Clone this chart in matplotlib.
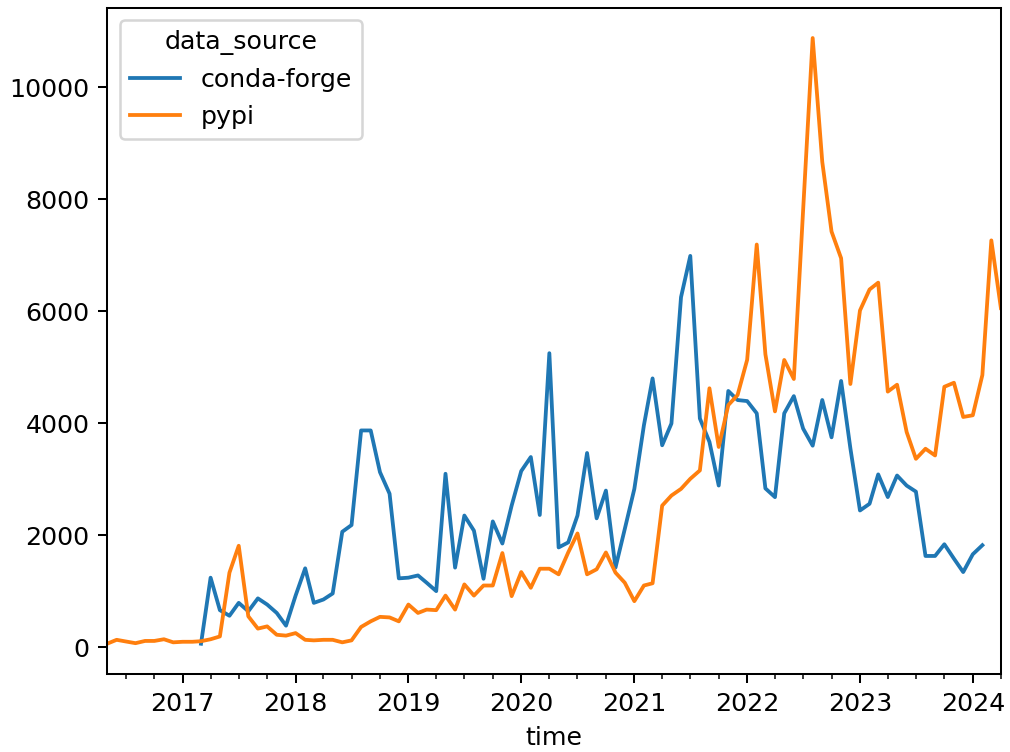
import matplotlib
matplotlib.use("Agg")
import matplotlib.pyplot as plt
import matplotlib.dates as mdates
import pandas as pd

# monthly downloads, pypi from 2016-05, conda-forge from 2017-03
pypi_start = "2016-05-01"
pypi = [
    60, 130, 100, 70, 110, 110, 140, 85, 95, 95, 105, 140,
    190, 1330, 1810, 550, 330, 370, 220, 205, 250, 130, 120, 130,
    130, 85, 120, 360, 460, 540, 530, 460, 760, 610, 670, 660,
    920, 670, 1120, 920, 1100, 1100, 1680, 910, 1340, 1060, 1400, 1400,
    1300, 1690, 2030, 1300, 1390, 1690, 1330, 1150, 820, 1100, 1140, 2527,
    2707, 2826, 3006, 3156, 4623, 3575, 4323, 4503, 5132, 7191, 5231, 4210,
    5129, 4789, 7800, 10880, 8668, 7423, 6946, 4700, 6013, 6388, 6510, 4564,
    4687, 3842, 3363, 3543, 3423, 4650, 4722, 4111, 4141, 4860, 7265, 6056,
]

conda_start = "2017-03-01"
conda_forge = [
    60, 1240, 660, 560, 790, 640, 870, 760, 610, 383,
    920, 1407, 790, 850, 958, 2060, 2180, 3870, 3870, 3125,
    2740, 1228, 1240, 1280, 1150, 1000, 3096, 1420, 2350, 2080,
    1220, 2245, 1850, 2527, 3144, 3395, 2360, 5250, 1780, 1870,
    2350, 3467, 2300, 2796, 1420, 2108, 2826, 3964, 4800, 3605,
    3994, 6250, 6988, 4084, 3665, 2886, 4575, 4413, 4395, 4176,
    2835, 2679, 4176, 4483, 3904, 3598, 4414, 3747, 4754, 3550,
    2440, 2560, 3085, 2680, 3065, 2885, 2777, 1628, 1628, 1837,
    1580, 1340, 1658, 1820,
]

pypi_dates = pd.date_range(pypi_start, periods=len(pypi), freq="MS")
conda_dates = pd.date_range(conda_start, periods=len(conda_forge), freq="MS")

dpi = 182
fig = plt.figure(figsize=(1010 / dpi, 752 / dpi), dpi=dpi)
ax = fig.add_axes([0.106, 0.1037, 0.885, 0.886])

ax.plot(conda_dates, conda_forge, color="#1f77b4", label="conda-forge")
ax.plot(pypi_dates, pypi, color="#ff7f0e", label="pypi")

ax.set_xlim(pypi_dates[0], pypi_dates[-1])
ax.xaxis.set_major_locator(mdates.YearLocator())
ax.xaxis.set_major_formatter(mdates.DateFormatter("%Y"))
ax.xaxis.set_minor_locator(mdates.MonthLocator(bymonth=[1, 4, 7, 10]))
ax.set_xlabel("time")

ax.legend(title="data_source", loc="upper left")

fig.savefig("out.png", dpi=dpi)
plt.close(fig)
